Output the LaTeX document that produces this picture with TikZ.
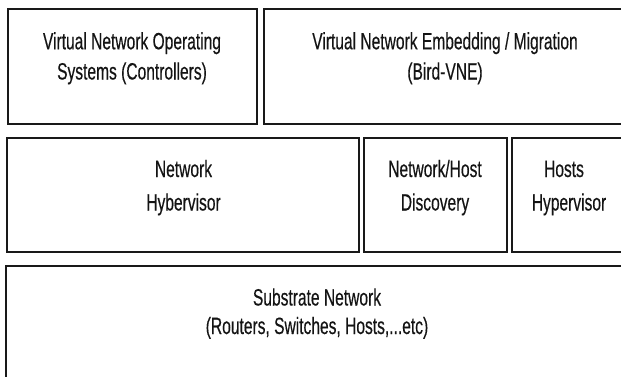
\documentclass[tikz,border=0pt]{standalone}
\usepackage{fontspec}
\setmainfont[FakeStretch=0.66,FakeBold=0.35]{Liberation Sans}
\begin{document}
\begin{tikzpicture}[x=1pt,y=-1pt,
  box/.style={draw=black!90,line width=2.1pt,inner sep=0pt,outer sep=0pt,rectangle},
  txt/.style={anchor=base,inner sep=0pt,text=black!92,font=\fontsize{23.6}{28}\selectfont}]
\useasboundingbox (0,0) rectangle (621,376);
\clip (0,0) rectangle (621,376);
\node[box,minimum width=249pt,minimum height=115pt] (b1) at (132.5,66.5) {};
\node[box,minimum width=362pt,minimum height=115pt] (b2) at (445,66.5) {};
\node[box,minimum width=352pt,minimum height=114pt] (b3) at (183,195) {};
\node[box,minimum width=143pt,minimum height=114pt] (b4) at (435.5,195) {};
\node[box,minimum width=114pt,minimum height=114pt] (b5) at (569,195) {};
\node[box,minimum width=623pt,minimum height=114pt] (b6) at (317.5,323) {};
\node[txt] (t1a) at (132,49.3) {Virtual Network Operating};
\node[txt] (t1b) at (132,79.5) {Systems (Controllers)};
\node[txt] (t2a) at (445,49.3) {Virtual Network Embedding / Migration};
\node[txt] (t2b) at (445,79.5) {(Bird-VNE)};
\node[txt] (t3a) at (183.5,177) {Network};
\node[txt] (t3b) at (183.5,210.5) {Hybervisor};
\node[txt] (t4a) at (435,177) {Network/Host};
\node[txt] (t4b) at (435,210.5) {Discovery};
\node[txt] (t5a) at (564,177) {Hosts};
\node[txt] (t5b) at (569,210.5) {Hypervisor};
\node[txt] (t6a) at (317,305.5) {Substrate Network};
\node[txt] (t6b) at (317,334) {(Routers, Switches, Hosts,...etc)};
\end{tikzpicture}
\end{document}
